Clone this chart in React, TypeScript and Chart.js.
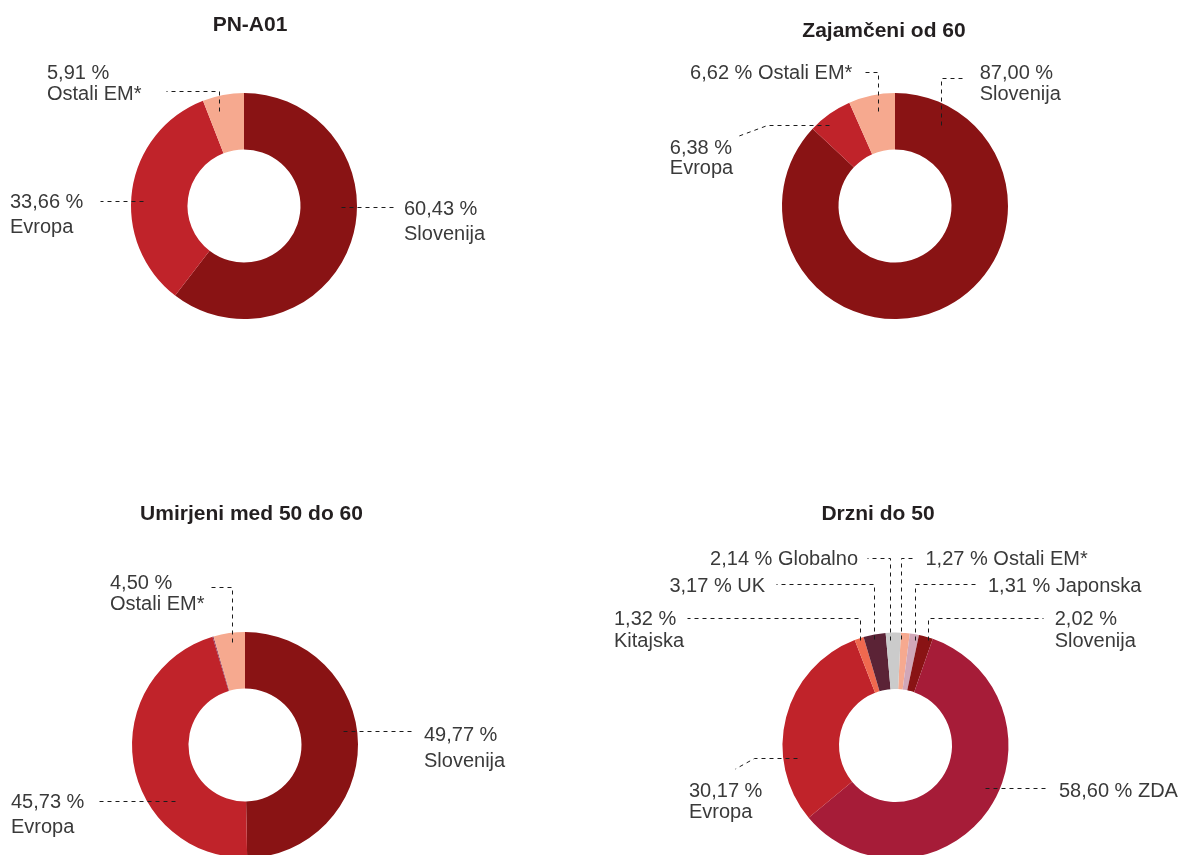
import { useEffect, useRef } from 'react';
import { Chart, registerables } from 'chart.js';

Chart.register(...registerables);

// ---------- DATA ----------
const pnTitle = 'PN-A01';
const pnCategories = ['Slovenija', 'Evropa', 'Ostali EM*'];
const pnValues = [60.43, 33.66, 5.91];

const zajTitle = 'Zajamčeni od 60';
const zajCategories = ['Slovenija', 'Evropa', 'Ostali EM*'];
const zajValues = [87.0, 6.38, 6.62];

const umiTitle = 'Umirjeni med 50 do 60';
const umiCategories = ['Slovenija', 'Evropa', 'Drugo', 'Ostali EM*'];
const umiValues = [49.77, 45.73, 0.15, 4.5];

const drzTitle = 'Drzni do 50';
const drzCategories = ['Ostali EM*', 'Japonska', 'Slovenija', 'ZDA', 'Evropa', 'Kitajska', 'UK', 'Globalno'];
const drzValues = [1.27, 1.31, 2.02, 58.6, 30.17, 1.32, 3.17, 2.14];

// ---------- STYLE ----------
const COLORS: Record<string, string> = {
  'Slovenija': '#891314',
  'Evropa': '#C0232A',
  'Ostali EM*': '#F6A98F',
  'Drugo': '#8E3A5E',
  'ZDA': '#A61C38',
  'Kitajska': '#F0694F',
  'UK': '#5B2336',
  'Globalno': '#CBCBCB',
  'Japonska': '#D1A7B8',
};

type Seg = ['H', number] | ['V', number] | ['L', number, number];
interface LabelSpec {
  i: number; t: number; r: number; path: Seg[];
  x: number; y: number; align: CanvasTextAlign; lh: number; split: boolean;
}
interface ChartSpec {
  title: string; tdx: number; tdy: number;
  cats: string[]; vals: number[]; rotation: number;
  left: number; top: number; w: number; h: number;
  pad: { left: number; right: number; top: number; bottom: number };
  labels: LabelSpec[];
}

const CHARTS: ChartSpec[] = [
  {
    title: pnTitle, tdx: 6, tdy: -175, cats: pnCategories, vals: pnValues, rotation: 0,
    left: 0, top: 0, w: 591, h: 427, pad: { left: 131, right: 234, top: 93, bottom: 108 },
    labels: [
      { i: 0, t: 0.417, r: 98, path: [['H', 151]], x: 160, y: 9, align: 'left', lh: 25, split: true },
      { i: 1, t: 0.456, r: 101, path: [['H', -144]], x: -234, y: 2, align: 'left', lh: 25, split: true },
      { i: 2, t: 0.31, r: 98, path: [['V', -115], ['H', -78]], x: -197, y: -127, align: 'left', lh: 21, split: true },
    ],
  },
  {
    title: zajTitle, tdx: -11, tdy: -169, cats: zajCategories, vals: zajValues, rotation: 0,
    left: 591, top: 0, w: 591, h: 427, pad: { left: 191, right: 174, top: 93, bottom: 108 },
    labels: [
      { i: 0, t: 0.097, r: 92.8, path: [['V', -128], ['H', 70.6]], x: 84.7, y: -127, align: 'left', lh: 21, split: true },
      { i: 1, t: 0.34, r: 104, path: [['H', -128], ['L', -155.8, -70]], x: -225.2, y: -52, align: 'left', lh: 20, split: true },
      { i: 2, t: 0.584, r: 96.4, path: [['V', -134], ['H', -33.3]], x: -42.6, y: -127, align: 'right', lh: 21, split: false },
    ],
  },
  {
    title: umiTitle, tdx: 6.5, tdy: -225, cats: umiCategories, vals: umiValues, rotation: 0,
    left: 0, top: 427, w: 591, h: 480, pad: { left: 132, right: 233, top: 205, bottom: 49 },
    labels: [
      { i: 0, t: 0.46, r: 98.9, path: [['H', 170]], x: 179, y: -4, align: 'left', lh: 26, split: true },
      { i: 1, t: 0.317, r: 89.6, path: [['H', -147]], x: -234, y: 63, align: 'left', lh: 25, split: true },
      { i: 3, t: 0.58, r: 103.7, path: [['V', -158], ['H', -35]], x: -135, y: -156, align: 'left', lh: 21, split: true },
    ],
  },
  {
    title: drzTitle, tdx: -17.5, tdy: -225.5, cats: drzCategories, vals: drzValues, rotation: 2.7,
    left: 591, top: 427, w: 591, h: 480, pad: { left: 191.5, right: 173.5, top: 205.5, bottom: 48.5 },
    labels: [
      { i: 7, t: 0.31, r: 105.6, path: [['V', -187.5], ['H', -28.5]], x: -37.5, y: -180.5, align: 'right', lh: 21, split: false },
      { i: 0, t: 0.18, r: 105.7, path: [['V', -187.5], ['H', 18.2]], x: 30, y: -180.5, align: 'left', lh: 21, split: false },
      { i: 6, t: 0.43, r: 107.7, path: [['V', -161.5], ['H', -119.5]], x: -130.5, y: -153.5, align: 'right', lh: 21, split: false },
      { i: 1, t: 0.71, r: 107.3, path: [['V', -161.5], ['H', 81.3]], x: 92.5, y: -153.5, align: 'left', lh: 21, split: false },
      { i: 5, t: 0.61, r: 111.1, path: [['V', -127.5], ['H', -208.5]], x: -281.5, y: -120.5, align: 'left', lh: 22, split: true },
      { i: 2, t: 0.71, r: 110.4, path: [['V', -127.5], ['H', 148.1]], x: 159.2, y: -120.5, align: 'left', lh: 22, split: true },
      { i: 4, t: 0.295, r: 99.4, path: [['H', -141.5], ['L', -160, 23.5]], x: -206.5, y: 51.5, align: 'left', lh: 20.5, split: true },
      { i: 3, t: 0.457, r: 100.4, path: [['H', 153.5]], x: 163.5, y: 51.5, align: 'left', lh: 21, split: false },
    ],
  },
];

const fmt = (v: number) => v.toFixed(2).replace('.', ',') + ' %';
const snap = (v: number) => Math.round(v - 0.5) + 0.5;

function leaderPlugin(spec: ChartSpec) {
  return {
    id: 'leaders',
    afterDraw(chart: any) {
      const ctx: CanvasRenderingContext2D = chart.ctx;
      const meta = chart.getDatasetMeta(0);
      const a0: any = meta.data[0];
      const cx = a0.x;
      const cy = a0.y;
      ctx.save();
      ctx.textBaseline = 'alphabetic';
      ctx.font = 'bold 21px "Liberation Sans", Arial, sans-serif';
      ctx.fillStyle = '#231f20';
      ctx.textAlign = 'center';
      ctx.fillText(spec.title, cx + spec.tdx, cy + spec.tdy);

      ctx.strokeStyle = '#1c1c1c';
      ctx.lineWidth = 1;
      ctx.setLineDash([4, 4]);
      ctx.font = '20px "Liberation Sans", Arial, sans-serif';
      ctx.fillStyle = '#3a3a3a';
      for (const L of spec.labels) {
        const arc: any = meta.data[L.i];
        const ang = arc.startAngle + L.t * (arc.endAngle - arc.startAngle);
        let px = snap(arc.x + L.r * Math.cos(ang));
        let py = snap(arc.y + L.r * Math.sin(ang));
        ctx.beginPath();
        ctx.moveTo(px, py);
        for (const s of L.path) {
          if (s[0] === 'H') px = snap(cx + s[1]);
          else if (s[0] === 'V') py = snap(cy + s[1]);
          else { px = cx + s[1]; py = cy + s[2]; }
          ctx.lineTo(px, py);
        }
        ctx.stroke();

        const name = spec.cats[L.i];
        const pct = fmt(spec.vals[L.i]);
        const lines = L.split ? [pct, name] : [pct + ' ' + name];
        ctx.textAlign = L.align;
        lines.forEach((txt, k) => {
          ctx.fillText(txt, cx + L.x, cy + L.y + k * L.lh);
        });
      }
      ctx.restore();
    },
  };
}

export default function App() {
  const canvases = useRef<(HTMLCanvasElement | null)[]>([]);

  useEffect(() => {
    const charts = CHARTS.map((spec, k) => {
      const canvas = canvases.current[k]!;
      return new Chart(canvas, {
        type: 'doughnut',
        data: {
          labels: spec.cats,
          datasets: [
            {
              data: spec.vals,
              backgroundColor: spec.cats.map((c) => COLORS[c]),
              borderWidth: 0,
              hoverOffset: 0,
            },
          ],
        },
        options: {
          responsive: false,
          animation: false,
          cutout: '50%',
          rotation: spec.rotation,
          events: [],
          layout: { padding: spec.pad },
          plugins: {
            legend: { display: false },
            tooltip: { enabled: false },
            title: { display: false },
          },
        } as any,
        plugins: [leaderPlugin(spec) as any],
      });
    });
    return () => charts.forEach((c) => c.destroy());
  }, []);

  return (
    <div
      style={{
        position: 'fixed',
        left: 0,
        top: 0,
        width: 1182,
        height: 855,
        overflow: 'hidden',
        background: '#ffffff',
      }}
    >
      {CHARTS.map((spec, k) => (
        <canvas
          key={k}
          ref={(el) => { canvases.current[k] = el; }}
          width={spec.w}
          height={spec.h}
          style={{ position: 'absolute', left: spec.left, top: spec.top, width: spec.w, height: spec.h }}
        />
      ))}
    </div>
  );
}
